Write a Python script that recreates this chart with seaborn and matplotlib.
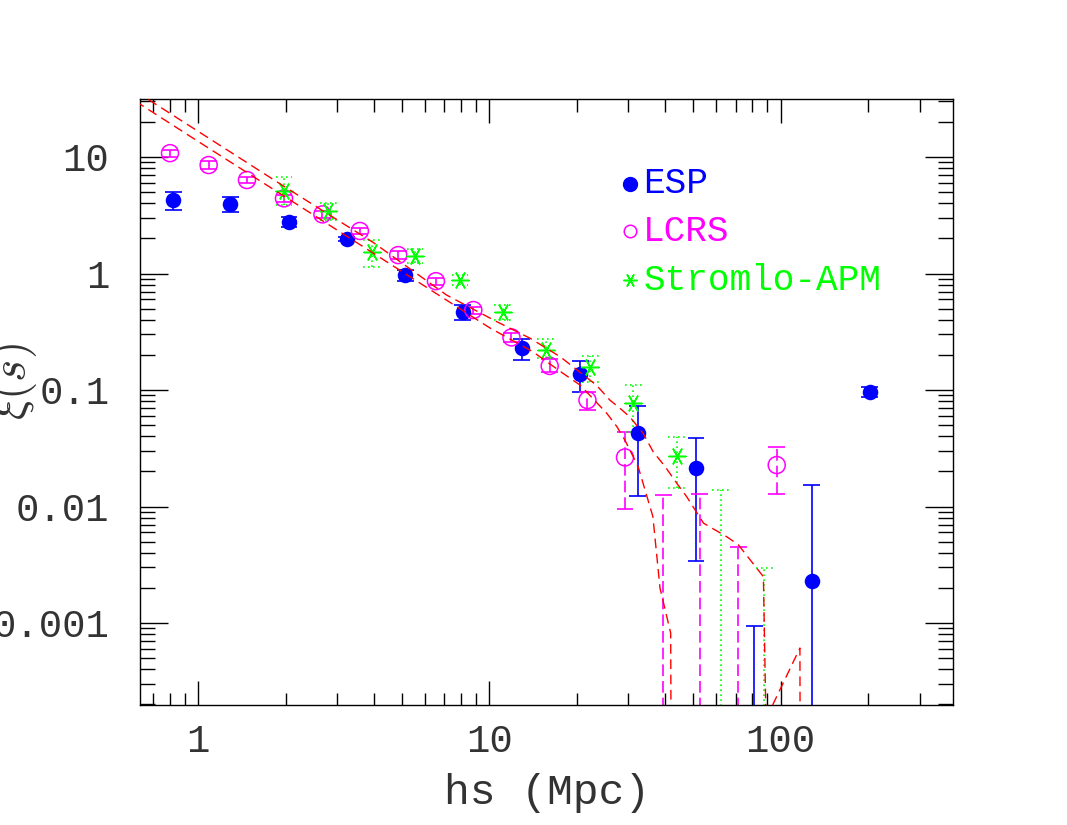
import numpy as np
import pandas as pd
import seaborn as sns
import matplotlib.pyplot as plt
from matplotlib.ticker import FixedLocator, FixedFormatter, LogLocator, NullFormatter

# --- data (1e-6 = value below the plot / negative) ---
esp_s = [0.82, 1.29, 2.05, 3.24, 5.14, 8.1, 12.9, 20.5, 32.3, 51.2, 81.0, 128.0, 202.0]
esp_xi = [4.27, 3.95, 2.75, 1.97, 0.97, 0.467, 0.228, 0.136, 0.0425, 0.0213, np.nan, 0.0023, 0.096]
esp_lo = [3.51, 3.39, 2.49, 1.89, 0.86, 0.40, 0.181, 0.0967, 0.0122, 0.0034, 1e-6, 1e-6, 0.087]
esp_hi = [4.97, 4.56, 3.07, 2.06, 1.08, 0.536, 0.272, 0.177, 0.073, 0.0389, 0.00094, 0.0153, 0.107]

lcrs_s = [0.80, 1.086, 1.47, 1.97, 2.67, 3.59, 4.86, 6.55, 8.8, 11.9, 16.1, 21.7, 29.2, 39.5, 52.8, 71.5, 96.9]
lcrs_xi = [10.8, 8.54, 6.35, 4.42, 3.22, 2.32, 1.44, 0.86, 0.486, 0.283, 0.161, 0.082, 0.0264,
           np.nan, np.nan, np.nan, 0.0227]
lcrs_lo = [10.0, 7.9, 5.95, 4.1, 3.0, 2.2, 1.33, 0.80, 0.45, 0.26, 0.142, 0.0675, 0.0095,
           1e-6, 1e-6, 1e-6, 0.0129]
lcrs_hi = [11.6, 9.2, 6.75, 4.75, 3.45, 2.45, 1.55, 0.92, 0.52, 0.31, 0.185, 0.0967, 0.0434,
           0.0125, 0.0128, 0.0045, 0.0323]

apm_s = [1.97, 2.80, 3.94, 5.55, 7.92, 11.1, 15.6, 22.2, 31.2, 44.0, 62.2, 87.9]
apm_xi = [5.14, 3.46, 1.52, 1.42, 0.88, 0.47, 0.22, 0.157, 0.077, 0.0271, np.nan, np.nan]
apm_lo = [3.87, 2.88, 1.14, 1.24, 0.80, 0.40, 0.187, 0.118, 0.044, 0.0145, 1e-6, 1e-6]
apm_hi = [6.7, 4.05, 1.94, 1.62, 0.97, 0.54, 0.272, 0.196, 0.111, 0.0392, 0.0139, 0.00295]

model_a_s = [0.55, 1.0, 2.0, 4.0, 7.13, 10.6, 13.8, 17.5, 23.3, 25.9, 28.0, 30.3, 33.6, 36.5,
             40.1, 44.0, 47.6, 54.3, 65.3, 71.5, 87.2, 89.0, 116.4, 117.0]
model_a_xi = [43.2, 16.6, 5.47, 1.84, 0.653, 0.386, 0.278, 0.193, 0.110, 0.082, 0.070, 0.059,
              0.043, 0.0295, 0.022, 0.0158, 0.0121, 0.0072, 0.0055, 0.0047, 0.0025, 0.00015,
              0.00061, 1e-6]
model_b_s = [0.55, 1.0, 2.0, 4.0, 10.0, 14.1, 17.9, 20.5, 25.3, 27.4, 29.2, 32.4, 36.4, 38.5, 41.9, 42.3]
model_b_xi = [35.5, 13.6, 4.51, 1.49, 0.343, 0.213, 0.139, 0.110, 0.063, 0.0484, 0.037, 0.022,
              0.0082, 0.002, 0.00082, 1e-6]

sns.set_theme(style="ticks")
plt.rcParams['font.family'] = ['Liberation Mono', 'DejaVu Sans Mono']
plt.rcParams['mathtext.fontset'] = 'cm'

fig = plt.figure(figsize=(10.67, 8.25), dpi=100)
ax = fig.add_axes([0.1312, 0.1455, 0.762, 0.7345])
ax.set_xscale('log')
ax.set_yscale('log')


def err_bars(x, lo, hi, color, ls, cap_ls, lw):
    x = np.asarray(x)
    w = 10 ** 0.029
    ax.vlines(x, lo, hi, colors=color, linestyles=ls, linewidth=lw, zorder=2)
    ax.hlines(hi, x / w, x * w, colors=color, linestyles=cap_ls, linewidth=lw, zorder=2)
    ax.hlines(lo, x / w, x * w, colors=color, linestyles=cap_ls, linewidth=lw, zorder=2)


err_bars(esp_s, esp_lo, esp_hi, 'blue', 'solid', 'solid', 1.2)
err_bars(lcrs_s, lcrs_lo, lcrs_hi, 'magenta', (0, (7, 3)), 'solid', 1.2)
err_bars(apm_s, apm_lo, apm_hi, 'lime', (0, (1, 2)), (0, (1, 2)), 1.2)

# models
models = pd.concat([
    pd.DataFrame({'s': model_a_s, 'xi': model_a_xi, 'model': 'a'}),
    pd.DataFrame({'s': model_b_s, 'xi': model_b_xi, 'model': 'b'}),
])
for name, grp in models.groupby('model'):
    sns.lineplot(data=grp, x='s', y='xi', sort=False, estimator=None, ax=ax,
                 color='red', linewidth=1.0, linestyle=(0, (7, 4)), zorder=5)

# points
sns.scatterplot(x=esp_s, y=esp_xi, ax=ax, marker='o', s=125, color='blue',
                edgecolor='blue', linewidth=0, zorder=3)
sns.scatterplot(x=lcrs_s, y=lcrs_xi, ax=ax, marker='o', s=150, facecolor='none',
                edgecolor='magenta', linewidth=1.1, zorder=3)
sns.scatterplot(x=apm_s, y=apm_xi, ax=ax, marker=(6, 2, 30), s=150, color='lime',
                edgecolor='lime', linewidth=1.1, zorder=3)

ax.set_xlim(0.631, 390.6)
ax.set_ylim(1.98e-4, 31.5)

ax.xaxis.set_major_locator(FixedLocator([1, 10, 100]))
ax.xaxis.set_major_formatter(FixedFormatter(['1', '10', '100']))
ax.xaxis.set_minor_locator(LogLocator(base=10, subs=np.arange(2, 10), numticks=20))
ax.xaxis.set_minor_formatter(NullFormatter())
ax.yaxis.set_major_locator(FixedLocator([0.001, 0.01, 0.1, 1, 10]))
ax.yaxis.set_major_formatter(FixedFormatter(['0.001', '0.01', '0.1', '1', '10']))
ax.yaxis.set_minor_locator(LogLocator(base=10, subs=np.arange(2, 10), numticks=20))
ax.yaxis.set_minor_formatter(NullFormatter())

ax.tick_params(which='both', direction='in', top=True, right=True, color='black', width=1.0,
               labelcolor='#333333')
ax.tick_params(axis='x', which='major', length=17, pad=14, labelsize=28)
ax.tick_params(axis='x', which='minor', length=9)
ax.tick_params(axis='y', which='major', length=20, pad=22, labelsize=28)
ax.tick_params(axis='y', which='minor', length=11)
for sp in ax.spines.values():
    sp.set_color('black')
    sp.set_linewidth(1.0)

ax.set_xlabel('hs (Mpc)', fontsize=31, color='#333333')
ax.xaxis.set_label_coords(0.5, -0.112)
ax.set_ylabel('')
fig.text(0.013, 0.537, r'$\xi(s)$', rotation=90, ha='center', va='center', fontsize=34,
         color='#333333')

# legend drawn in axes coordinates
leg_labels = ['ESP', 'LCRS', 'Stromlo-APM']
leg_colors = ['blue', 'magenta', 'lime']
leg_y = [0.860, 0.782, 0.701]
ax.plot([0.603], [leg_y[0]], marker='o', ms=10, color='blue', mec='blue',
        transform=ax.transAxes, clip_on=False)
ax.plot([0.603], [leg_y[1]], marker='o', ms=9, mfc='none', mec='magenta', mew=1.1,
        transform=ax.transAxes, clip_on=False)
ax.plot([0.603], [leg_y[2]], marker=(6, 2, 30), ms=10, color='lime', mew=1.1,
        transform=ax.transAxes, clip_on=False)
for lab, col, yy in zip(leg_labels, leg_colors, leg_y):
    ax.text(0.619, yy, lab, color=col, fontsize=26, ha='left', va='center',
            transform=ax.transAxes)

fig.savefig('out.png', dpi=100)
